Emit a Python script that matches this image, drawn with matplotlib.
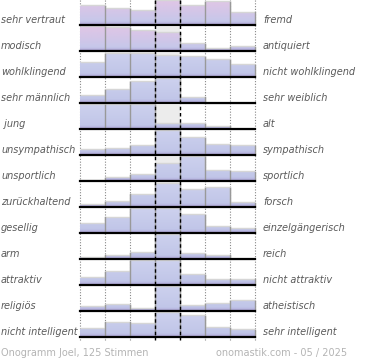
import numpy as np
import matplotlib.pyplot as plt
from matplotlib.colors import LinearSegmentedColormap

# Beschriftungen links / rechts
left_labels = ["sehr vertraut", "modisch", "wohlklingend", "sehr männlich", " jung",
               "unsympathisch", "unsportlich", "zurückhaltend", "gesellig", "arm",
               "attraktiv", "religiös", "nicht intelligent"]
right_labels = ["fremd", "antiquiert", "nicht wohlklingend", "sehr weiblich", "alt",
                "sympathisch", "sportlich", "forsch", "einzelgängerisch", "reich",
                "nicht attraktiv", "atheistisch", "sehr intelligent"]

# Balkenhoehen in % der Zeilenhoehe, 7 Stufen pro Zeile
heights = [
    [80, 67, 58, 100, 80, 97, 53],
    [100, 94, 82, 75, 31, 9, 18],
    [61, 94, 94, 88, 84, 72, 51],
    [29, 56, 87, 100, 24, 0, 0],
    [100, 100, 100, 24, 22, 12, 0],
    [23, 27, 38, 100, 72, 44, 37],
    [2, 14, 27, 73, 100, 42, 37],
    [9, 23, 53, 95, 71, 78, 19],
    [37, 65, 100, 100, 75, 27, 20],
    [8, 16, 27, 100, 23, 16, 0],
    [30, 55, 100, 100, 41, 24, 24],
    [18, 27, 11, 100, 22, 31, 41],
    [34, 61, 54, 98, 86, 39, 29],
]
pink_rows = [0, 1]

footer_left = "Onogramm Joel, 125 Stimmen"
footer_right = "onomastik.com - 05 / 2025"

# layout (pixel)
W, H = 370, 360
x0, colw, ncol = 80, 25, 7
base0, rowh, full = 25.3, 26.0, 24.5

blue_cmap = LinearSegmentedColormap.from_list(
    "b", [(0, "#cdd1ee"), (0.85, "#c1c6e8"), (0.93, "#b8b6e0"), (1, "#a89dd2")])
pink_cmap = LinearSegmentedColormap.from_list(
    "p", [(0, "#e0c6e6"), (0.5, "#d2c6e8"), (0.85, "#c6c8ea"), (0.93, "#bab6e0"), (1, "#a89dd2")])
grad = np.linspace(0, 1, 60).reshape(-1, 1)

fig = plt.figure(figsize=(W / 100, H / 100), dpi=100)
ax = fig.add_axes([0, 0, 1, 1])
ax.axis("off")

edges = x0 + colw * np.arange(ncol + 1)
centers = edges[:-1] + colw / 2
grid_bottom = base0 + rowh * 12 + 3

# gitter
for i, e in enumerate(edges):
    if i in (3, 4):
        ax.plot([e, e], [0, grid_bottom], color="black", lw=1, ls=(0, (2.5, 2)), zorder=6)
    else:
        ax.plot([e, e], [0, grid_bottom], color="#888888", lw=0.8, ls=(0, (1, 1.5)), zorder=0)

for r, vals in enumerate(heights):
    base = base0 + rowh * r
    top = base - full
    # grauer Hintergrund mittlere Spalte
    ax.bar(centers[3], -full, width=colw, bottom=base, color="#ececec", zorder=1)
    hs = np.array(vals) / 100 * full
    bars = ax.bar(centers, -hs, width=colw, bottom=base, color="none", zorder=2)
    cmap = pink_cmap if r in pink_rows else blue_cmap
    for b in bars:
        im = ax.imshow(grad, cmap=cmap, extent=[b.get_x(), b.get_x() + colw, base, top],
                       aspect="auto", zorder=2, interpolation="bilinear")
        im.set_clip_path(b)
    # schatten / kanten
    ax.stairs(base - hs - 0.8, edges, baseline=None, color="#d6d6d6", lw=1, zorder=2.5)
    for i in range(ncol):
        hi = hs[i] if i == ncol - 1 else max(hs[i], hs[i + 1])
        if hs[i] > 0 or (i < ncol - 1 and hs[i + 1] > 0):
            ax.plot([edges[i + 1], edges[i + 1]], [base, base - hi], color="#999999",
                    lw=1, zorder=3)
    ax.plot([edges[0], edges[-1]], [base, base], color="black", lw=1.6, zorder=5)
    ax.text(1, base - 5.5, left_labels[r], ha="left", va="center", fontsize=7,
            style="italic", color="#5a5a5a")
    ax.text(263, base - 5.5, right_labels[r], ha="left", va="center", fontsize=7,
            style="italic", color="#5a5a5a")

ax.text(1, 353, footer_left, ha="left", va="center", fontsize=7, color="#b4b4b4")
ax.text(347, 353, footer_right, ha="right", va="center", fontsize=7, color="#b4b4b4")

ax.set_xlim(0, W)
ax.set_ylim(H, 0)
fig.savefig("out.png", dpi=100)
